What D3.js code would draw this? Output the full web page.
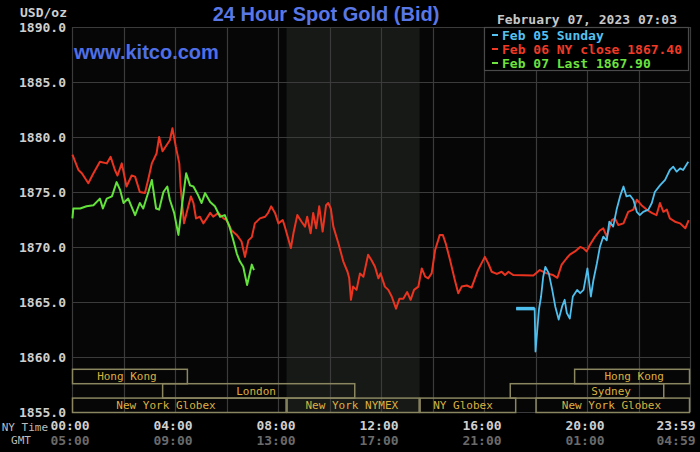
<!DOCTYPE html>
<html>
<head>
<meta charset="utf-8">
<script src="https://cdn.jsdelivr.net/npm/d3@7/dist/d3.min.js"></script>
<style>
  body { margin: 0; background: #000; }
  svg { display: block; }
</style>
</head>
<body>
<div id="chart"></div>
<script>
// minutes after 00:00 NY time, bid price
const feb06Close = [
  [1,1878.4],[15,1877.0],[23,1876.7],[38,1875.8],[50,1876.7],[65,1877.75],[81,1877.6],[90,1878.2],
  [100,1877.0],[106,1876.5],[116,1877.6],[127,1875.5],[139,1876.5],[147,1876.4],[158,1875.0],[170,1874.9],
  [178,1876.2],[186,1877.6],[197,1878.5],[203,1880.0],[211,1878.7],[221,1879.3],[228,1879.7],[234,1880.8],
  [242,1879.1],[250,1877.6],[253,1875.5],[261,1872.15],[271,1873.7],[277,1874.6],[283,1874.0],[289,1872.6],
  [298,1872.75],[306,1872.15],[314,1872.6],[322,1873.1],[329,1872.75],[341,1873.1],[353,1872.6],[360,1872.45],
  [372,1871.5],[384,1871.1],[395,1870.5],[403,1869.1],[411,1870.6],[419,1870.9],[426,1872.15],[438,1872.6],
  [450,1872.75],[457,1873.1],[464,1873.7],[473,1873.1],[481,1872.15],[491,1872.45],[496,1871.85],[510,1869.9],
  [516,1871.25],[525,1872.9],[535,1872.3],[543,1871.85],[548,1872.75],[556,1871.25],[562,1873.1],[569,1871.7],
  [576,1873.7],[584,1871.4],[592,1873.8],[597,1874.0],[603,1873.5],[609,1871.85],[621,1870.3],[632,1868.7],
  [642,1867.75],[646,1867.15],[650,1865.2],[655,1866.4],[663,1866.1],[671,1867.6],[679,1867.3],[690,1869.3],
  [698,1868.8],[706,1868.2],[714,1867.15],[719,1867.6],[729,1866.4],[737,1866.1],[745,1865.5],[755,1864.4],
  [763,1865.3],[772,1865.3],[781,1865.9],[789,1865.2],[797,1866.1],[807,1866.4],[815,1868.05],[823,1867.3],
  [830,1867.15],[838,1867.6],[846,1869.7],[857,1871.1],[864,1871.1],[871,1870.3],[881,1868.8],[892,1867.0],
  [900,1865.8],[908,1866.4],[920,1866.5],[931,1866.3],[946,1867.9],[962,1869.1],[970,1868.5],[978,1867.75],
  [990,1867.55],[1001,1867.75],[1009,1867.45],[1017,1867.75],[1028,1867.45],[1075,1867.4],[1090,1867.9],
  [1106,1867.6],[1121,1867.45],[1131,1867.2],[1141,1868.4],[1153,1869.0],[1160,1869.3],[1172,1869.6],
  [1184,1870.0],[1191,1869.9],[1199,1869.6],[1207,1870.2],[1219,1870.95],[1230,1871.5],[1238,1871.7],
  [1246,1870.95],[1258,1872.45],[1265,1872.6],[1273,1872.0],[1285,1872.15],[1296,1873.2],[1308,1873.4],
  [1316,1874.3],[1327,1873.8],[1339,1873.4],[1351,1873.1],[1362,1872.9],[1370,1874.0],[1378,1873.2],
  [1386,1873.4],[1393,1872.6],[1405,1872.3],[1417,1872.15],[1429,1871.7],[1437,1872.45]
];

const feb05Sunday = [
  [1035,1864.4],[1078,1864.4],[1080,1860.5],[1088,1864.3],[1093,1865.5],[1098,1867.3],[1103,1868.2],
  [1111,1867.6],[1119,1866.1],[1126,1864.6],[1134,1863.4],[1142,1864.6],[1148,1865.2],[1153,1864.0],
  [1160,1863.5],[1167,1865.5],[1177,1866.1],[1184,1865.8],[1192,1866.1],[1201,1868.05],[1209,1865.5],
  [1215,1867.0],[1223,1868.5],[1230,1870.0],[1238,1870.95],[1246,1870.6],[1252,1872.3],[1261,1871.85],
  [1269,1873.4],[1277,1874.6],[1285,1875.5],[1292,1874.6],[1300,1874.7],[1308,1874.3],[1316,1873.2],
  [1323,1872.9],[1331,1873.2],[1343,1873.4],[1351,1874.0],[1358,1875.0],[1370,1875.6],[1382,1876.1],
  [1393,1877.0],[1401,1877.3],[1409,1876.85],[1417,1877.15],[1424,1877.0],[1436,1877.75]
];

const feb07Last = [
  [1,1872.6],[3,1873.5],[19,1873.5],[34,1873.7],[50,1873.8],[65,1874.4],[72,1873.5],[81,1874.4],
  [93,1874.6],[104,1875.9],[112,1875.2],[120,1874.0],[131,1874.4],[147,1872.9],[158,1874.0],[166,1873.5],
  [178,1875.0],[186,1876.1],[196,1873.5],[203,1873.4],[213,1875.0],[222,1875.5],[228,1874.3],[238,1873.1],
  [248,1871.1],[256,1873.7],[266,1876.7],[275,1875.6],[283,1875.5],[294,1874.7],[302,1874.0],[310,1874.9],
  [322,1874.1],[333,1873.7],[345,1872.75],[356,1872.9],[367,1871.85],[376,1870.6],[384,1869.4],[391,1868.7],
  [399,1868.2],[408,1866.55],[419,1868.4],[424,1867.9]
];

const legendLabels = ['Feb 05 Sunday', 'Feb 06 NY close 1867.40', 'Feb 07 Last 1867.90'];
const nyTickMinutes = [0, 240, 480, 720, 960, 1200, 1439];
const nyTickLabels = ['00:00', '04:00', '08:00', '12:00', '16:00', '20:00', '23:59'];
const gmtTickLabels = ['05:00', '09:00', '13:00', '17:00', '21:00', '01:00', '04:59'];
const nymexHours = [500, 810];

// name, start, end, row, label minute
const sessions = [
  ['Hong Kong', 0, 270, 0, 128],
  ['Hong Kong', 1170, 1440, 0, 1310],
  ['London', 210, 660, 1, 429],
  ['Sydney', 1020, 1380, 1, 1256],
  ['New York Globex', 0, 500, 2, 219],
  ['New York NYMEX', 500, 810, 2, 652],
  ['NY Globex', 810, 1035, 2, 911],
  ['New York Globex', 1080, 1440, 2, 1257]
];

const W = 700, H = 452;
const mono = "'DejaVu Sans Mono', 'Liberation Mono', monospace";
const sans = "'Liberation Sans', Arial, sans-serif";

const x = d3.scaleLinear().domain([0, 1440]).range([72, 690]);
const y = d3.scaleLinear().domain([1855, 1890]).range([412, 27]);

const svg = d3.select('#chart').append('svg').attr('width', W).attr('height', H);
svg.append('rect').attr('width', W).attr('height', H).attr('fill', '#000');

// plot background + NYMEX shading
svg.append('rect')
  .attr('x', x(0)).attr('y', y(1890))
  .attr('width', x(1440) - x(0)).attr('height', y(1855) - y(1890))
  .attr('fill', '#060607');
svg.append('rect')
  .attr('x', x(nymexHours[0])).attr('y', y(1890))
  .attr('width', x(nymexHours[1]) - x(nymexHours[0])).attr('height', y(1855) - y(1890))
  .attr('fill', '#161916');

// grid
const grid = svg.append('g').attr('stroke', '#3b3b3b').attr('stroke-width', 1.2);
grid.selectAll('.h').data(d3.range(1855, 1890.1, 5)).join('line')
  .attr('x1', x(0)).attr('x2', x(1440))
  .attr('y1', d => Math.round(y(d)) + 0.5).attr('y2', d => Math.round(y(d)) + 0.5);
grid.selectAll('.v').data(d3.range(0, 1441, 120)).join('line')
  .attr('y1', y(1890)).attr('y2', y(1855))
  .attr('x1', d => Math.round(x(d)) + 0.5).attr('x2', d => Math.round(x(d)) + 0.5);

// y axis labels
svg.append('g').selectAll('text').data(d3.range(1855, 1890.1, 5)).join('text')
  .attr('x', 66).attr('y', d => y(d)).attr('dy', '0.36em')
  .attr('text-anchor', 'end')
  .attr('font-family', mono).attr('font-size', 13).attr('font-weight', 'bold')
  .attr('fill', '#cfcfcf')
  .text(d => d3.format('.1f')(d));

svg.append('text').attr('x', 67).attr('y', 12).attr('dy', '0.36em')
  .attr('text-anchor', 'end')
  .attr('font-family', mono).attr('font-size', 13).attr('font-weight', 'bold')
  .attr('fill', '#cfcfcf').text('USD/oz');

// x axis labels
const xl = svg.append('g').attr('font-family', mono).attr('font-size', 13).attr('font-weight', 'bold');
xl.selectAll('.ny').data(nyTickMinutes).join('text')
  .attr('x', (d, i) => i === nyTickMinutes.length - 1 ? x(d) + 6 : x(d) - 2)
  .attr('text-anchor', (d, i) => i === nyTickMinutes.length - 1 ? 'end' : 'middle')
  .attr('y', 425).attr('dy', '0.36em').attr('fill', '#cfcfcf')
  .text((d, i) => nyTickLabels[i]);
xl.selectAll('.gmt').data(nyTickMinutes).join('text')
  .attr('x', (d, i) => i === nyTickMinutes.length - 1 ? x(d) + 6 : x(d) - 2)
  .attr('text-anchor', (d, i) => i === nyTickMinutes.length - 1 ? 'end' : 'middle')
  .attr('y', 440).attr('dy', '0.36em').attr('fill', '#6a6a6a')
  .text((d, i) => gmtTickLabels[i]);

svg.append('text').attr('x', 48).attr('y', 427).attr('dy', '0.36em').attr('text-anchor', 'end')
  .attr('font-family', mono).attr('font-size', 11).attr('fill', '#bdbdbd').text('NY Time');
svg.append('text').attr('x', 21).attr('y', 440).attr('dy', '0.36em').attr('text-anchor', 'middle')
  .attr('font-family', mono).attr('font-size', 11).attr('fill', '#bdbdbd').text('GMT');

// trading sessions
const rowH = 14.4;
const sess = svg.append('g');
sess.selectAll('rect').data(sessions).join('rect')
  .attr('x', d => x(d[1]) + 0.5)
  .attr('y', d => y(1855) - (3 - d[3]) * rowH + 0.5)
  .attr('width', d => x(d[2]) - x(d[1]) - 1)
  .attr('height', rowH)
  .attr('fill', 'none').attr('stroke', '#8a8660').attr('stroke-width', 1.5);
sess.selectAll('text').data(sessions).join('text')
  .attr('x', d => x(d[4])).attr('text-anchor', 'middle')
  .attr('y', d => y(1855) - (3 - d[3]) * rowH + rowH / 2 + 0.5).attr('dy', '0.36em')
  .attr('font-family', mono).attr('font-size', 11)
  .attr('fill', '#dcb040')
  .text(d => d[0]);

// price lines
const line = d3.line().x(d => x(d[0])).y(d => y(d[1]));
const plot = svg.append('g').attr('fill', 'none').attr('stroke-linejoin', 'round');
plot.append('path').datum(feb06Close).attr('d', line).attr('stroke', '#ea3420').attr('stroke-width', 2);
plot.append('path').datum(feb05Sunday).attr('d', line).attr('stroke', '#4fbfee').attr('stroke-width', 1.8);
plot.append('path').datum(feb05Sunday.slice(0, 2)).attr('d', line).attr('stroke', '#4fbfee').attr('stroke-width', 3.5);
plot.append('path').datum(feb07Last).attr('d', line).attr('stroke', '#62e23a').attr('stroke-width', 2);

// titles
svg.append('text').attr('x', 326).attr('y', 14).attr('dy', '0.36em').attr('text-anchor', 'middle')
  .attr('font-family', sans).attr('font-size', 20).attr('font-weight', 'bold')
  .attr('fill', '#5a77e6').text('24 Hour Spot Gold (Bid)');
svg.append('text').attr('x', 74).attr('y', 52).attr('dy', '0.36em')
  .attr('font-family', sans).attr('font-size', 20).attr('font-weight', 'bold')
  .attr('fill', '#4f6fe6').text('www.kitco.com');
svg.append('text').attr('x', 497).attr('y', 19).attr('dy', '0.36em')
  .attr('font-family', mono).attr('font-size', 13).attr('font-weight', 'bold')
  .attr('fill', '#c8c8c8').text('February 07, 2023 07:03');

// legend
const legendColors = ['#55c2f2', '#f03a26', '#6ee23e'];
const lg = svg.append('g');
lg.append('rect').attr('x', 484.5).attr('y', 27.5).attr('width', 204).attr('height', 43)
  .attr('fill', '#000').attr('stroke', '#4a4a4a').attr('stroke-width', 1.2);
legendLabels.forEach((t, i) => {
  const cy = 35 + i * 14;
  lg.append('line').attr('x1', 492).attr('x2', 498).attr('y1', cy).attr('y2', cy)
    .attr('stroke', legendColors[i]).attr('stroke-width', 2);
  lg.append('text').attr('x', 502).attr('y', cy).attr('dy', '0.36em')
    .attr('font-family', mono).attr('font-size', 13).attr('font-weight', 'bold')
    .attr('fill', legendColors[i]).text(t);
});
</script>
</body>
</html>
